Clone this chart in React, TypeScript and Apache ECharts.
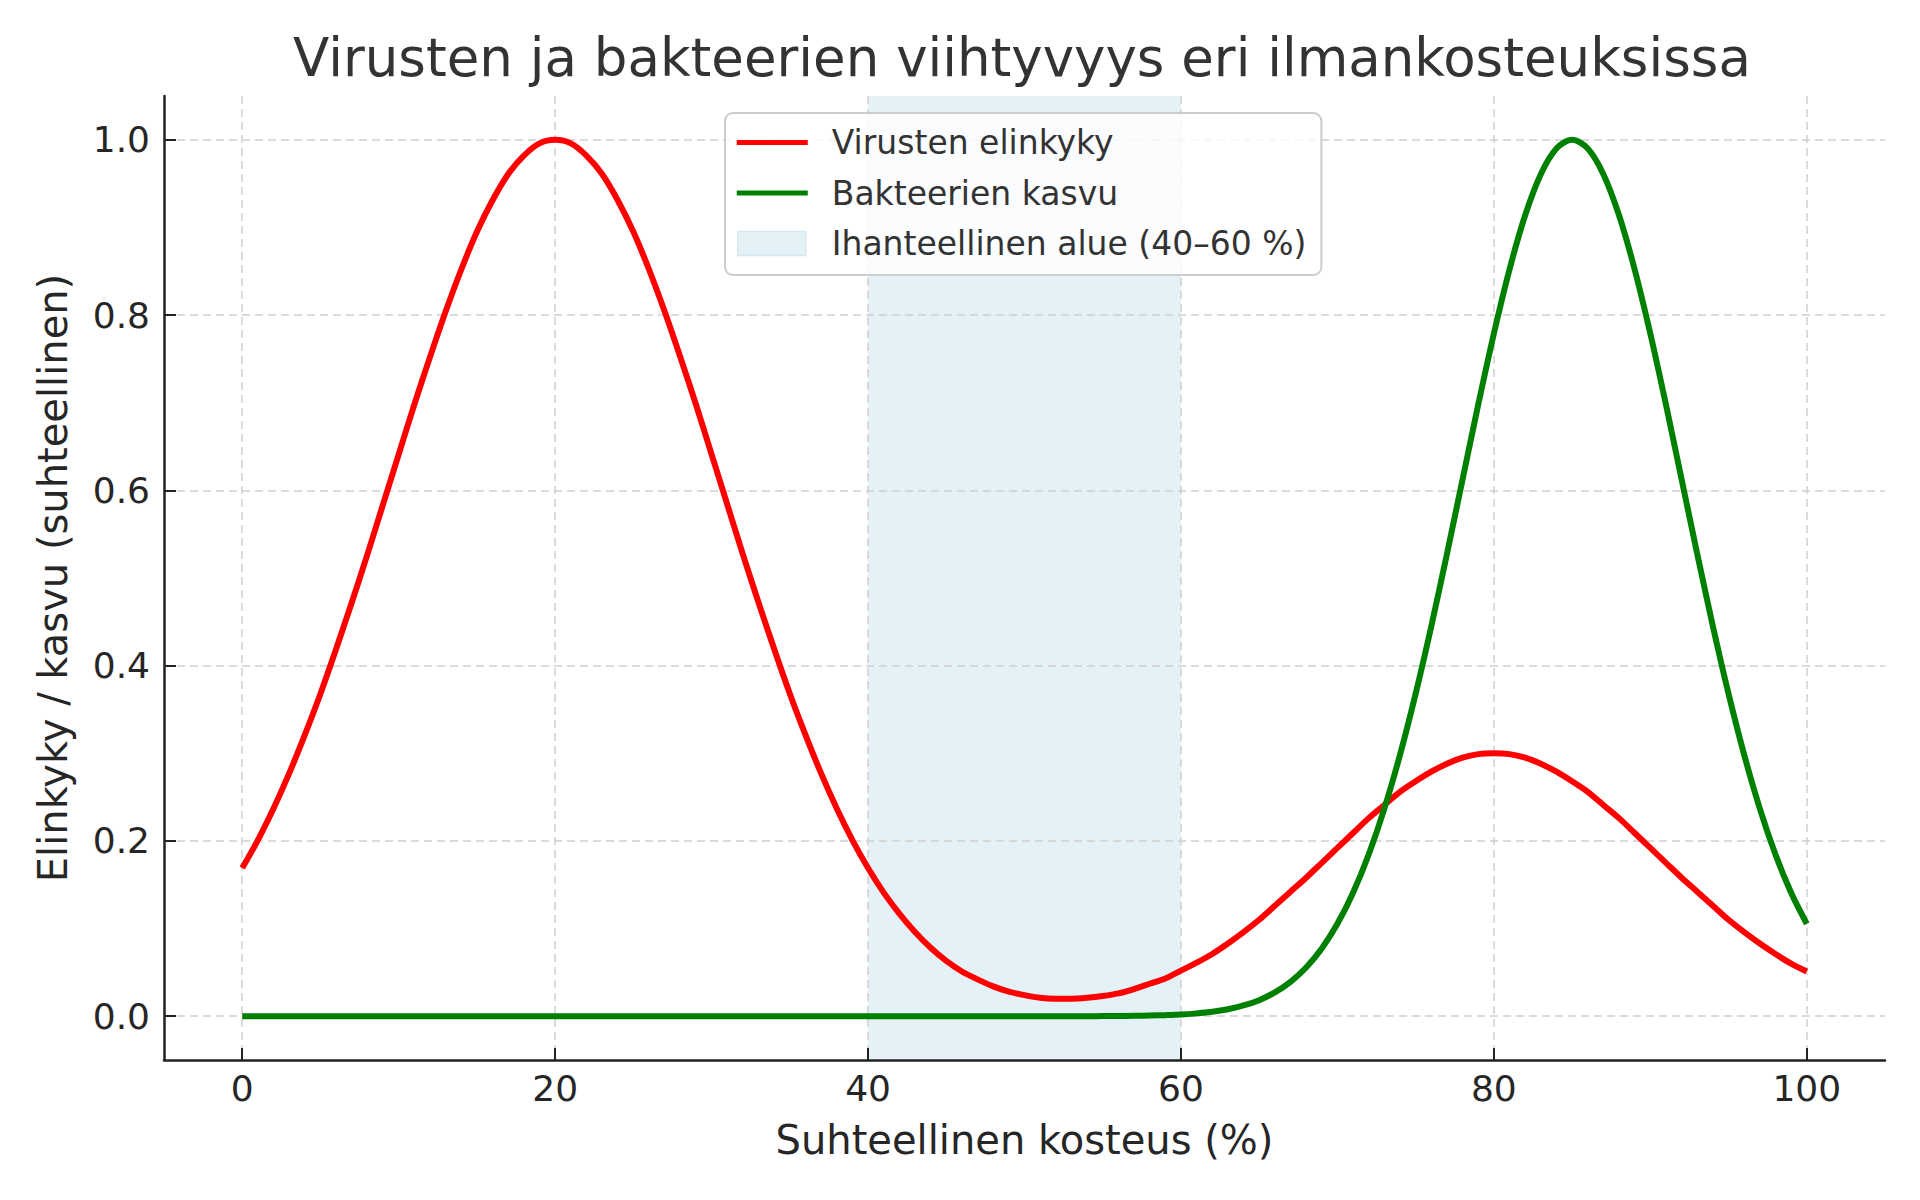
import React, { useEffect, useRef } from "react";
import * as echarts from "echarts";

// Relative humidity (%) sample positions
const humidity = [
  0, 1, 2, 3, 4, 5, 6, 7, 8, 9, 10, 11, 12, 13, 14, 15, 16, 17, 18, 19, 20,
  21, 22, 23, 24, 25, 26, 27, 28, 29, 30, 31, 32, 33, 34, 35, 36, 37, 38, 39,
  40, 41, 42, 43, 44, 45, 46, 47, 48, 49, 50, 51, 52, 53, 54, 55, 56, 57, 58,
  59, 60, 61, 62, 63, 64, 65, 66, 67, 68, 69, 70, 71, 72, 73, 74, 75, 76, 77,
  78, 79, 80, 81, 82, 83, 84, 85, 86, 87, 88, 89, 90, 91, 92, 93, 94, 95, 96,
  97, 98, 99, 100,
];
// Virus viability (relative)
const virusViability = [
  0.169, 0.201, 0.237, 0.277, 0.321, 0.368, 0.419, 0.472, 0.527, 0.584, 0.641,
  0.698, 0.752, 0.804, 0.852, 0.895, 0.931, 0.961, 0.982, 0.996, 1.0, 0.996,
  0.982, 0.961, 0.931, 0.895, 0.852, 0.804, 0.752, 0.698, 0.641, 0.584, 0.527,
  0.472, 0.419, 0.368, 0.321, 0.277, 0.237, 0.201, 0.169, 0.141, 0.117, 0.096,
  0.078, 0.063, 0.051, 0.042, 0.034, 0.028, 0.024, 0.021, 0.02, 0.02, 0.021,
  0.023, 0.026, 0.031, 0.037, 0.043, 0.052, 0.061, 0.071, 0.083, 0.096, 0.11,
  0.126, 0.142, 0.158, 0.175, 0.192, 0.209, 0.226, 0.241, 0.256, 0.268, 0.279,
  0.288, 0.295, 0.299, 0.3, 0.299, 0.295, 0.288, 0.279, 0.268, 0.256, 0.241,
  0.226, 0.209, 0.192, 0.175, 0.158, 0.142, 0.126, 0.11, 0.096, 0.083, 0.071,
  0.06, 0.051,
];
// Bacterial growth (relative)
const bacteriaGrowth = [
  0, 0, 0, 0, 0, 0, 0, 0, 0, 0, 0, 0, 0, 0, 0, 0, 0, 0, 0, 0, 0, 0, 0, 0, 0,
  0, 0, 0, 0, 0, 0, 0, 0, 0, 0, 0, 0, 0, 0, 0, 0, 0, 0, 0, 0, 0, 0, 0, 0, 0,
  0, 0, 0, 0, 0, 0.0001, 0.0002, 0.0004, 0.0007, 0.0012, 0.0019, 0.0032,
  0.005, 0.0079, 0.0122, 0.0183, 0.0271, 0.0392, 0.0556, 0.0773, 0.1054,
  0.1409, 0.1845, 0.2369, 0.2982, 0.3679, 0.4449, 0.5273, 0.6126, 0.6977,
  0.7788, 0.8521, 0.9139, 0.9608, 0.9901, 1.0, 0.9901, 0.9608, 0.9139, 0.8521,
  0.7788, 0.6977, 0.6126, 0.5273, 0.4449, 0.3679, 0.2982, 0.2369, 0.1845,
  0.1409, 0.1054,
];
const idealZone = [40, 60];
const xTicks = [0, 20, 40, 60, 80, 100];
const yTicks = [0, 0.2, 0.4, 0.6, 0.8, 1.0];

const TITLE = "Virusten ja bakteerien viihtyvyys eri ilmankosteuksissa";
const VIRUS_NAME = "Virusten elinkyky";
const BACT_NAME = "Bakteerien kasvu";
const ZONE_NAME = "Ihanteellinen alue (40–60 %)";
const X_NAME = "Suhteellinen kosteus (%)";
const Y_NAME = "Elinkyky / kasvu (suhteellinen)";

const FONT = "DejaVu Sans";
const LINE_ICON = "path://M0,0 M90,26 M0,10.5h71v5h-71z";
const PATCH_ICON = "path://M0,0 M90,26 M1,1h68v24h-68z";

export default function App() {
  const ref = useRef<HTMLDivElement>(null);

  useEffect(() => {
    if (!ref.current) return;
    const chart = echarts.init(ref.current, undefined, { renderer: "svg" });
    const virusData = humidity.map((x, i) => [x, virusViability[i]]);
    const bactData = humidity.map((x, i) => [x, bacteriaGrowth[i]]);

    const gridLine = {
      show: true,
      lineStyle: { color: "#cfcfcf", width: 1.5, type: [8, 5] as any },
    };

    chart.setOption({
      animation: false,
      backgroundColor: "#ffffff",
      title: {
        text: TITLE,
        left: 1022,
        top: 31,
        textAlign: "center",
        padding: 0,
        textStyle: {
          fontFamily: FONT,
          fontSize: 53,
          fontWeight: "normal",
          color: "#333333",
        },
      },
      grid: { left: 164, right: 35, top: 96, bottom: 140, containLabel: false },
      legend: {
        left: 725,
        top: 113,
        orient: "vertical",
        itemWidth: 90,
        itemHeight: 26,
        itemGap: 17.5,
        padding: [13, 15, 15, 11],
        backgroundColor: "rgba(255,255,255,0.8)",
        borderColor: "#cccccc",
        borderWidth: 2,
        borderRadius: 8,
        itemStyle: { borderWidth: 0 },
        textStyle: {
          fontFamily: FONT,
          fontSize: 33,
          lineHeight: 30,
          color: "#333333",
        },
        data: [
          { name: VIRUS_NAME, icon: LINE_ICON, itemStyle: { color: "#ff0000", borderWidth: 0 } },
          { name: BACT_NAME, icon: LINE_ICON, itemStyle: { color: "#008000", borderWidth: 0 } },
          {
            name: ZONE_NAME,
            icon: PATCH_ICON,
            itemStyle: { color: "#e4f1f7", borderColor: "#d3e8f0", borderWidth: 1.5 },
          },
        ],
      },
      xAxis: {
        type: "value",
        min: -5,
        max: 105,
        z: 3,
        name: X_NAME,
        nameLocation: "middle",
        nameGap: 60,
        nameTextStyle: { fontFamily: FONT, fontSize: 40, color: "#262626" },
        axisLine: { show: true, onZero: false, lineStyle: { color: "#222222", width: 2.5 } },
        axisTick: {
          show: true,
          inside: true,
          length: 12,
          customValues: xTicks,
          lineStyle: { color: "#222222", width: 2 },
        },
        axisLabel: {
          customValues: xTicks,
          margin: 10,
          fontFamily: FONT,
          fontSize: 36,
          color: "#262626",
        },
        splitLine: gridLine,
      },
      yAxis: {
        type: "value",
        min: -0.05,
        max: 1.05,
        z: 3,
        name: Y_NAME,
        nameLocation: "middle",
        nameRotate: 90,
        nameGap: 91,
        nameTextStyle: { fontFamily: FONT, fontSize: 40, color: "#262626" },
        axisLine: { show: true, onZero: false, lineStyle: { color: "#222222", width: 2.5 } },
        axisTick: {
          show: true,
          inside: true,
          length: 12,
          customValues: yTicks,
          lineStyle: { color: "#222222", width: 2 },
        },
        axisLabel: {
          customValues: yTicks,
          margin: 14,
          fontFamily: FONT,
          fontSize: 36,
          color: "#262626",
          formatter: (v: number) => v.toFixed(1),
        },
        splitLine: gridLine,
      },
      series: [
        {
          name: ZONE_NAME,
          type: "line",
          z: 1,
          data: [],
          itemStyle: { color: "#e4f1f7" },
          markArea: {
            silent: true,
            z: 1,
            itemStyle: { color: "#e4f1f7", opacity: 1 },
            data: [[{ xAxis: idealZone[0] }, { xAxis: idealZone[1] }]],
          },
        },
        {
          name: VIRUS_NAME,
          type: "line",
          z: 4,
          data: virusData,
          smooth: 0.3,
          showSymbol: false,
          symbol: "none",
          itemStyle: { color: "#ff0000" },
          lineStyle: { color: "#ff0000", width: 6, join: "round", cap: "butt" },
        },
        {
          name: BACT_NAME,
          type: "line",
          z: 4,
          data: bactData,
          smooth: 0.3,
          showSymbol: false,
          symbol: "none",
          itemStyle: { color: "#008000" },
          lineStyle: { color: "#008000", width: 6, join: "round", cap: "butt" },
        },
      ],
    });

    return () => chart.dispose();
  }, []);

  return (
    <div
      ref={ref}
      style={{ position: "fixed", left: 0, top: 0, width: 1920, height: 1200 }}
    />
  );
}
